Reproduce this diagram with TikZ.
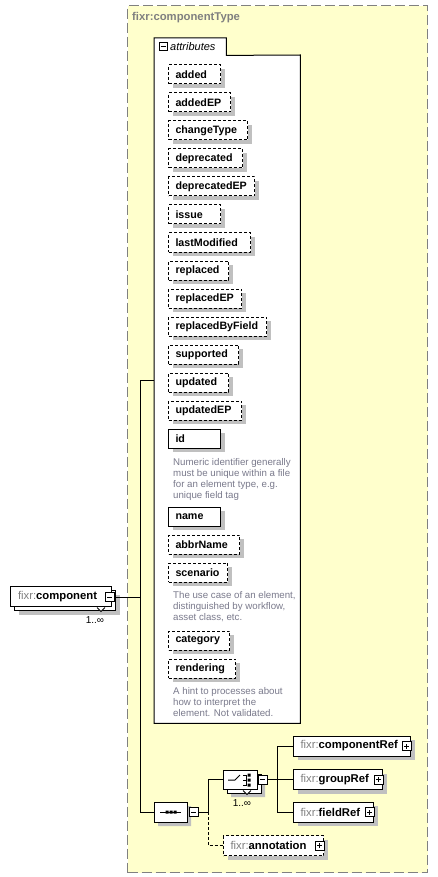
\documentclass[tikz,border=0pt]{standalone}
\usepackage{fontspec}
\setmainfont{Liberation Sans}
\usetikzlibrary{shapes.misc}
\usetikzlibrary{shadows}
\definecolor{typebg}{RGB}{255,255,204}
\definecolor{typeline}{RGB}{128,128,128}
\definecolor{shade}{RGB}{192,192,192}
\definecolor{nsgray}{RGB}{128,128,128}
\definecolor{docgray}{RGB}{122,122,140}
\newcommand\attrfont{\fontsize{10.7}{13}\selectfont\bfseries}
\newcommand\elemfont{\fontsize{11.3}{13}\selectfont\bfseries}
\newcommand\docfont{\fontsize{9.7}{11}\selectfont}
\newcommand\fixr{{\mdseries\color{nsgray}fixr:}}
\tikzset{
  conn/.style= {line width=1pt},
  typebox/.style= {draw=typeline, fill=typebg, line width=1.2pt, dash pattern=on 10pt off 4pt},
  typelabel/.style= {anchor=west, inner sep=0, text=nsgray, font=\elemfont},
  attr/.style= {draw, fill=white, line width=1pt, anchor=west, minimum height=19pt,
    inner xsep=7pt, inner ysep=0pt, align=left, font=\attrfont,
    general shadow={fill=shade, shadow xshift=4pt, shadow yshift=-4pt}},
  optattr/.style= {attr, dash pattern=on 3pt off 2pt},
  doc/.style= {anchor=north west, inner sep=0, align=left, font=\docfont, text=docgray},
  elem/.style= {draw, fill=white, line width=1pt, anchor=west, minimum height=20pt,
    inner xsep=7pt, inner ysep=0pt, align=left, font=\elemfont,
    general shadow={fill=shade, shadow xshift=4pt, shadow yshift=-4pt}},
  optelem/.style= {elem, dash pattern=on 3pt off 2pt},
  stacked/.style= {general shadow={fill=shade, shadow xshift=8pt, shadow yshift=-8pt},
    general shadow={draw, fill=white, line width=1pt, shadow xshift=4pt, shadow yshift=-4pt}},
  compositor/.style= {chamfered rectangle, chamfered rectangle sep=5pt, draw, fill=white,
    line width=1pt, inner sep=0pt},
  minus/.style= {draw, fill=white, line width=0.8pt, minimum size=9pt, inner sep=0pt,
    path picture={\draw ([xshift=-2.5pt]path picture bounding box.center) -- ++(5pt,0);}},
  plus/.style= {minus,
    path picture={\draw ([xshift=-2.5pt]path picture bounding box.center) -- ++(5pt,0);
      \draw ([yshift=-2.5pt]path picture bounding box.center) -- ++(0,5pt);}},
  occurs/.style= {inner sep=0, font=\fontsize{10}{12}\selectfont},
}

\begin{document}
\begin{tikzpicture}[x=1pt, y=-1pt]
  \useasboundingbox (0,0) rectangle (438,877);

  % complex type
  \node [typebox, minimum width=300pt, minimum height=867pt, anchor=north west] (ctype) at (127,5) {};
  \node [typelabel] (ctypelbl) at (132,18) {fixr:componentType};

  % attribute group
  \node [minimum width=146pt, minimum height=668pt, anchor=north west, inner sep=0] (attrs) at (154,55) {};
  \node [minimum width=72pt, minimum height=17pt, anchor=north west, inner sep=0] (attrtab) at (154,38) {};
  \draw [fill=white, line width=1pt] (attrs.south west) -- (attrtab.north west) -- (attrtab.north east)
    -- (attrtab.south east) -- (attrs.north east) -- (attrs.south east) -- cycle;
  \node [minus, minimum size=8pt] (attrm) at (163,46.5) {};
  \node [anchor=west, inner sep=0, font=\fontsize{11}{13}\selectfont\itshape] (attrlbl) at (170,46.5) {attributes};

  \node [optattr, text width=38pt] (added) at (168,74.5) {added};
  \node [optattr, text width=48pt] (addedEP) at (168,102.5) {addedEP};
  \node [optattr, text width=65pt] (changeType) at (168,130.5) {changeType};
  \node [optattr, text width=60pt] (deprecated) at (168,158.5) {deprecated};
  \node [optattr, text width=72pt] (deprecatedEP) at (168,186.5) {deprecatedEP};
  \node [optattr, text width=38pt] (issue) at (168,214.5) {issue};
  \node [optattr, text width=68pt] (lastModified) at (168,242.5) {lastModified};
  \node [optattr, text width=46pt] (replaced) at (168,270.5) {replaced};
  \node [optattr, text width=59pt] (replacedEP) at (168,298.5) {replacedEP};
  \node [optattr, text width=84pt] (replacedByField) at (168,326.5) {replacedByField};
  \node [optattr, text width=56pt] (supported) at (168,354.5) {supported};
  \node [optattr, text width=46pt] (updated) at (168,382.5) {updated};
  \node [optattr, text width=59pt] (updatedEP) at (168,410.5) {updatedEP};
  \node [attr, text width=38pt] (id) at (168,438.5) {id};
  \node [doc] (iddoc) at (173,458) {Numeric identifier generally\\must be unique within a file\\for an element type, e.g.\\unique field tag};
  \node [attr, text width=38pt] (name) at (168,516.5) {name};
  \node [optattr, text width=57pt] (abbrName) at (168,544.5) {abbrName};
  \node [optattr, text width=45pt] (scenario) at (168,572.5) {scenario};
  \node [doc] (scenariodoc) at (173,591.5) {The use case of an element,\\distinguished by workflow,\\asset class, etc.};
  \node [optattr, text width=47pt] (category) at (168,640.5) {category};
  \node [optattr, text width=53pt] (rendering) at (168,668.5) {rendering};
  \node [doc] (renderingdoc) at (173,687) {A hint to processes about\\how to interpret the\\element. Not validated.};

  % global element
  \node [elem, stacked, minimum width=101pt, text width=86pt] (comp) at (10,596.5) {\fixr component};
  \node [minus] (compm) at (109.5,597) {};
  \draw [fill=white, line width=0.8pt] (97,607.5) -- (101,611.5) -- (105,607.5);
  \node [occurs] (compocc) at (95,620) {1..∞};

  % content model
  \node [compositor, minimum width=33pt, minimum height=20pt,
    general shadow={fill=shade, shadow xshift=4pt, shadow yshift=-4pt}] (seq) at (170.5,812) {};
  \draw [line width=1pt] (160,812) -- (181,812);
  \fill (165.5,810.5) rectangle ++(3,3) (169.5,810.5) rectangle ++(3,3) (173.5,810.5) rectangle ++(3,3);
  \node [minus] (seqm) at (193.5,812) {};

  \node [compositor, stacked, minimum width=34pt, minimum height=19pt] (cho) at (240,779.5) {};
  \draw [line width=1pt] (228,780) -- (235,780) -- (240,775);
  \draw [line width=1pt] (243,775) -- (246,775) -- (246,785) -- (243,785) (243,780) -- (246,780);
  \fill (247.5,773.5) rectangle ++(3,3) (247.5,778.5) rectangle ++(3,3) (247.5,783.5) rectangle ++(3,3);
  \node [minus] (chom) at (262.5,779.5) {};
  \draw [fill=white, line width=0.8pt] (243,790.5) -- (247,794.5) -- (251,790.5);
  \node [occurs] (choocc) at (242,803) {1..∞};

  \node [elem, minimum width=117pt, text width=103pt] (cref) at (293,746) {\fixr componentRef};
  \node [plus] (crefp) at (406.5,746) {};
  \node [elem, minimum width=89pt, text width=75pt] (gref) at (293,779.5) {\fixr groupRef};
  \node [plus] (grefp) at (378.5,779.5) {};
  \node [elem, minimum width=80pt, text width=66pt] (fref) at (293,812) {\fixr fieldRef};
  \node [plus] (frefp) at (369.5,812) {};
  \node [optelem, minimum width=100pt, text width=86pt] (annot) at (223,845.5) {\fixr annotation};
  \node [plus] (annotp) at (319.5,845.5) {};

  % connectors
  \coordinate (jatt) at (140,380);
  \coordinate (jseq) at (208,812);
  \coordinate (jcho) at (277,779.5);
  \draw [conn] (compm.east) -| (jatt) -- (attrs.west |- jatt);
  \draw [conn] (compm.east -| jatt) |- (seq.west);
  \draw [conn] (seqm.east) -- (jseq) |- (cho.west);
  \draw [conn, dash pattern=on 3pt off 2pt] (jseq) |- (annot.west);
  \draw [conn] (chom.east) -- (jcho) |- (cref.west);
  \draw [conn] (jcho) |- (gref.west);
  \draw [conn] (jcho) |- (fref.west);
\end{tikzpicture}
\end{document}
